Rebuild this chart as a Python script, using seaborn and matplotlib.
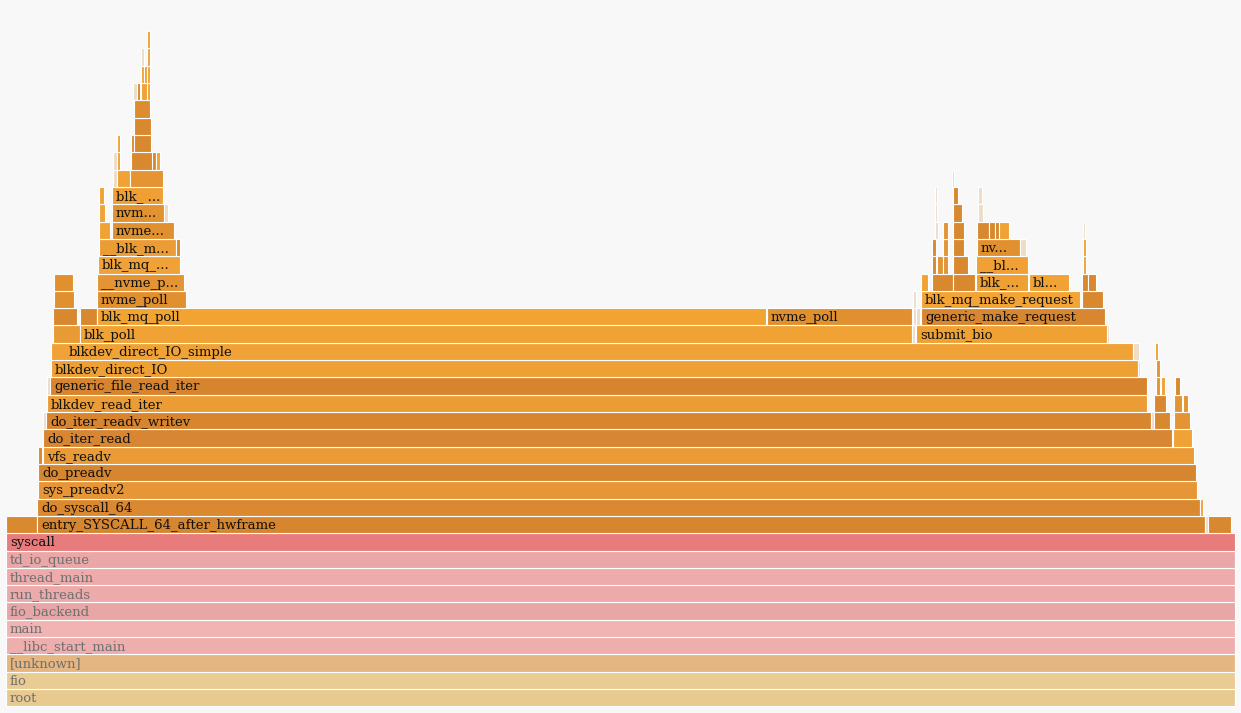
import matplotlib
matplotlib.use("Agg")
import matplotlib.pyplot as plt
import seaborn as sns

# flame graph frames: (depth, first sample, sample count, function name)
# total = 1229 samples, the view is zoomed on "syscall"
total_samples = 1229

ancestors = ["root", "fio", "[unknown]", "__libc_start_main", "main",
             "fio_backend", "run_threads", "thread_main", "td_io_queue"]

io_stack = [
    (9, 0, 1229, "syscall"),
    (10, 0, 31, ""), (10, 31, 1168, "entry_SYSCALL_64_after_hwframe"), (10, 1199, 3, ""), (10, 1202, 23, ""),
    (11, 31, 1163, "do_syscall_64"), (11, 1194, 3, ""),
    (12, 32, 1159, "sys_preadv2"),
    (13, 32, 1158, "do_preadv"),
    (14, 32, 4, ""), (14, 37, 1151, "vfs_readv"),
    (15, 37, 1129, "do_iter_read"), (15, 1167, 19, ""),
    (16, 37, 3, ""), (16, 40, 1105, "do_iter_readv_writev"), (16, 1145, 3, ""), (16, 1148, 16, ""), (16, 1168, 16, ""),
    (17, 41, 1100, "blkdev_read_iter"), (17, 1148, 12, ""), (17, 1168, 8, ""), (17, 1177, 5, ""),
    (18, 41, 3, ""), (18, 44, 1097, "generic_file_read_iter"), (18, 1150, 4, ""), (18, 1155, 4, ""), (18, 1169, 5, ""),
    (19, 45, 1087, "blkdev_direct_IO"), (19, 1132, 2, ""), (19, 1150, 4, ""),
    (20, 45, 1082, "blkdev_direct_IO_simple"), (20, 1127, 6, ""), (20, 1149, 3, ""),
]

poll_tower = [
    (21, 47, 27, ""), (21, 74, 832, "blk_poll"), (21, 906, 3, ""),
    (22, 47, 24, ""), (22, 74, 17, ""), (22, 91, 669, "blk_mq_poll"), (22, 761, 145, "nvme_poll"),
    (23, 48, 20, ""), (23, 91, 89, "nvme_poll"),
    (24, 48, 19, ""), (24, 91, 87, "__nvme_p..."),
    (25, 92, 82, "blk_mq_..."),
    (26, 93, 77, "__blk_m..."), (26, 170, 4, ""),
    (27, 93, 11, ""), (27, 106, 62, "nvme..."),
    (28, 93, 6, ""), (28, 106, 52, "nvm..."), (28, 158, 4, ""),
    (29, 93, 5, ""), (29, 106, 51, "blk_ ..."),
    (30, 107, 4, ""), (30, 111, 13, ""), (30, 124, 33, ""),
    (31, 107, 4, ""), (31, 111, 3, ""), (31, 125, 22, ""), (31, 146, 4, ""), (31, 150, 4, ""),
    (32, 111, 3, ""), (32, 125, 3, ""), (32, 128, 17, ""),
    (33, 128, 17, ""),
    (34, 128, 16, ""),
    (35, 127, 4, ""), (35, 131, 3, ""), (35, 135, 7, ""), (35, 141, 3, ""),
    (36, 135, 3, ""), (36, 138, 4, ""), (36, 141, 3, ""),
    (37, 135, 3, ""), (37, 141, 3, ""),
    (38, 141, 3, ""),
]

submit_tower = [
    (21, 910, 191, "submit_bio"), (21, 1101, 2, ""),
    (22, 907, 3, ""), (22, 910, 4, ""), (22, 915, 184, "generic_make_request"),
    (23, 907, 3, ""), (23, 915, 159, "blk_mq_make_request"), (23, 1076, 21, ""),
    (24, 915, 7, ""), (24, 926, 21, ""), (24, 947, 22, ""), (24, 970, 52, "blk_..."),
    (24, 1023, 40, "bl..."), (24, 1076, 6, ""), (24, 1082, 8, ""),
    (25, 926, 4, ""), (25, 931, 6, ""), (25, 937, 5, ""), (25, 947, 15, ""),
    (25, 970, 52, "__bl..."), (25, 1077, 3, ""),
    (26, 926, 4, ""), (26, 937, 5, ""), (26, 947, 11, ""), (26, 971, 43, "nv..."),
    (26, 1014, 6, ""), (26, 1077, 3, ""),
    (27, 929, 3, ""), (27, 937, 5, ""), (27, 947, 11, ""), (27, 971, 12, ""),
    (27, 983, 6, ""), (27, 989, 4, ""), (27, 993, 10, ""), (27, 1077, 2, ""),
    (28, 929, 2, ""), (28, 947, 9, ""), (28, 972, 5, ""),
    (29, 929, 2, ""), (29, 947, 5, ""), (29, 972, 4, ""),
    (30, 946, 2, ""),
]

# colours per function (hash colours of the original tool)
frame_colors = {
    "root": "#e8ca91", "fio": "#e9cc93", "[unknown]": "#e4b681",
    "__libc_start_main": "#efaeae", "main": "#f2b3b3", "fio_backend": "#e9a6a6",
    "run_threads": "#ecaaaa", "thread_main": "#eeabab", "td_io_queue": "#eaa7a7",
    "syscall": "#e87c7c",
    "entry_SYSCALL_64_after_hwframe": "#d6862f", "do_syscall_64": "#da8931",
    "sys_preadv2": "#e69637", "do_preadv": "#d78630", "vfs_readv": "#ea9b35",
    "do_iter_read": "#d88631", "do_iter_readv_writev": "#d7852f",
    "blkdev_read_iter": "#ec9c35", "generic_file_read_iter": "#d78430",
    "blkdev_direct_IO": "#eea034", "blkdev_direct_IO_simple": "#f0a236",
    "blk_poll": "#f0a234", "blk_mq_poll": "#f2a433", "nvme_poll": "#e0902f",
    "submit_bio": "#f0a133", "generic_make_request": "#d8862f",
    "blk_mq_make_request": "#f2a435", "__nvme_p...": "#e49433",
    "blk_mq_...": "#f0a236", "__blk_m...": "#eb9c34", "nvme...": "#e0902f",
    "nvm...": "#e2922f", "blk_ ...": "#f0a033", "blk_...": "#eea035",
    "__bl...": "#f0a034", "nv...": "#e0902f", "bl...": "#f0a235",
}
unnamed_palette = ["#f0a234", "#e49433", "#d8882f"]
# slivers that render washed out in the original
pale_frames = {(10, 1199), (16, 1145), (20, 1127), (22, 907), (22, 910), (23, 907),
               (26, 1014), (27, 929), (27, 1077), (28, 158), (28, 929), (28, 972),
               (29, 929), (29, 972), (30, 107), (31, 107), (35, 127), (37, 135),
               (30, 946), (16, 37), (18, 41), (19, 1132), (21, 906), (21, 1101)}
fixed_colors = {(10, 0): "#d98a31", (21, 47): "#e89a35", (23, 48): "#e0902f",
                (24, 48): "#e0902f", (34, 128): "#dd8d30"}
label_shift = {"blkdev_direct_IO_simple": 18}

sns.set_style("white")
plt.rcParams["font.family"] = ["DejaVu Serif", "DejaVu Sans"]

fig = plt.figure(figsize=(12.41, 7.13), dpi=100, facecolor="#f8f8f8")
ax = fig.add_axes([0, 0, 1, 1])
ax.set_facecolor("#f8f8f8")

frames = [(d, 0, total_samples, n) for d, n in enumerate(ancestors)]
frames += io_stack + poll_tower + submit_tower

depths = [f[0] + 0.5 for f in frames]
starts = [f[1] for f in frames]
widths = [f[2] for f in frames]
colors = []
for d, s, w, n in frames:
    if n:
        colors.append(frame_colors[n])
    elif (d, s) in pale_frames:
        colors.append("#eddcc6")
    elif (d, s) in fixed_colors:
        colors.append(fixed_colors[(d, s)])
    else:
        colors.append(unnamed_palette[(s * 7 + d * 3) % 3])

ax.barh(depths, widths, left=starts, height=1.0, color=colors,
        edgecolor="white", linewidth=0.8)

for d, s, w, n in frames:
    if not n:
        continue
    tc = "#707070" if n in ancestors else "#111111"
    ax.text(s + label_shift.get(n, 4), d + 0.45, n, va="center", ha="left",
            fontsize=9.5, color=tc)

ax.set_xlim(-6, 1235)
ax.set_ylim(-0.383, 40.8)
ax.axis("off")

fig.savefig("out.png", dpi=100, facecolor=fig.get_facecolor())
